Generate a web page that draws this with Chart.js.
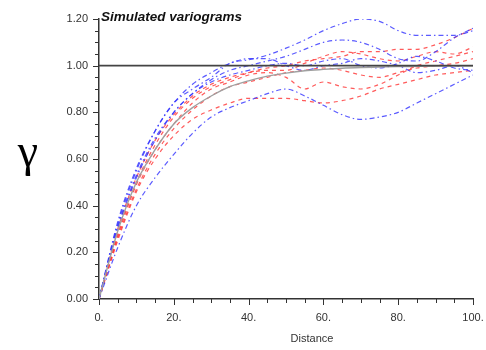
<!DOCTYPE html>
<html>
<head>
<meta charset="utf-8">
<script src="https://cdn.jsdelivr.net/npm/chart.js@4.4.1/dist/chart.umd.min.js"></script>
<style>
  body { margin: 0; background: #fff; }
  #wrap { width: 486px; height: 350px; }
</style>
</head>
<body>
<div id="wrap"><canvas id="myChart" width="486" height="350"></canvas></div>
<script>
// lag distances
const distances = [0, 5, 10, 15, 20, 25, 30, 35, 40, 45, 50, 55, 60, 65, 70, 75, 80, 85, 90, 95, 100];

// model variogram (grey) and sill
const modelGamma = [0, 0.29, 0.50, 0.64, 0.75, 0.82, 0.87, 0.91, 0.935, 0.955, 0.968, 0.978, 0.984, 0.989, 0.992, 0.994, 0.996, 0.997, 0.998, 0.999, 0.999];
const sill = [1, 1];
const sillX = [0, 100];

// simulated variograms, blue (dash-dot)
const blue1 = [0, 0.32, 0.55, 0.72, 0.84, 0.90, 0.95, 1.01, 1.025, 1.045, 1.075, 1.11, 1.15, 1.18, 1.20, 1.19, 1.15, 1.13, 1.13, 1.13, 1.15];
const blue2 = [0, 0.30, 0.52, 0.68, 0.80, 0.88, 0.94, 0.98, 1.00, 1.02, 1.04, 1.07, 1.10, 1.11, 1.10, 1.07, 1.03, 1.02, 1.06, 1.12, 1.16];
const blue3 = [0, 0.22, 0.40, 0.52, 0.62, 0.71, 0.78, 0.82, 0.85, 0.88, 0.90, 0.87, 0.83, 0.79, 0.77, 0.78, 0.80, 0.84, 0.88, 0.92, 0.96];
const blue4 = [0, 0.31, 0.53, 0.69, 0.80, 0.88, 0.93, 0.96, 0.98, 1.00, 1.01, 1.00, 1.02, 1.03, 1.00, 0.99, 1.01, 1.04, 1.02, 0.99, 0.98];
const blue5 = [0, 0.33, 0.56, 0.72, 0.84, 0.92, 0.97, 1.01, 1.03, 1.03, 1.00, 0.98, 1.00, 1.01, 1.03, 1.02, 1.00, 0.97, 0.98, 1.00, 0.97];

// simulated variograms, red (dashed)
const red1 = [0, 0.28, 0.50, 0.66, 0.78, 0.86, 0.91, 0.94, 0.97, 0.99, 1.00, 1.02, 1.03, 1.04, 1.06, 1.06, 1.07, 1.07, 1.09, 1.12, 1.16];
const red2 = [0, 0.25, 0.46, 0.60, 0.70, 0.77, 0.81, 0.84, 0.86, 0.86, 0.86, 0.85, 0.84, 0.85, 0.87, 0.90, 0.92, 0.94, 0.96, 0.97, 0.98];
const red3 = [0, 0.27, 0.49, 0.64, 0.75, 0.84, 0.90, 0.93, 0.96, 0.97, 0.95, 0.90, 0.93, 0.91, 0.90, 0.92, 0.96, 1.00, 1.02, 1.04, 1.06];
const red4 = [0, 0.30, 0.52, 0.68, 0.79, 0.87, 0.92, 0.95, 0.97, 0.98, 0.98, 1.01, 1.04, 1.06, 1.05, 1.03, 1.02, 1.04, 1.06, 1.05, 1.08];
const red5 = [0, 0.26, 0.47, 0.62, 0.73, 0.81, 0.87, 0.91, 0.93, 0.95, 0.97, 0.98, 0.99, 0.98, 0.96, 0.95, 0.97, 0.99, 1.00, 1.01, 1.03];

const blues = [blue1, blue2, blue3, blue4, blue5];
const reds = [red1, red2, red3, red4, red5];

const titleText = "Simulated variograms";
const yLabel = "\u03b3";
const xLabel = "Distance";

function toPts(xs, ys) {
  return xs.map((x, i) => ({ x: x, y: ys[i] }));
}

const datasets = [];
datasets.push({ data: toPts(sillX, sill), borderColor: "#444", borderWidth: 1.6, tension: 0 });
datasets.push({ data: toPts(distances, modelGamma), borderColor: "#a0a0a0", borderWidth: 1.4, cubicInterpolationMode: "monotone" });
blues.forEach(b => datasets.push({
  data: toPts(distances, b), borderColor: "rgba(50,50,255,0.8)", borderWidth: 1.2,
  borderDash: [5, 3, 1.5, 3], cubicInterpolationMode: "monotone"
}));
reds.forEach(r => datasets.push({
  data: toPts(distances, r), borderColor: "rgba(255,50,50,0.8)", borderWidth: 1.2,
  borderDash: [4, 4], cubicInterpolationMode: "monotone"
}));

// tick marks, title, axis labels
const decor = {
  id: "decor",
  afterDraw(chart) {
    const ctx = chart.ctx;
    const xs = chart.scales.x, ys = chart.scales.y;
    const area = chart.chartArea;
    ctx.save();
    ctx.strokeStyle = "#333";
    ctx.lineWidth = 1;
    for (let v = 0; v <= 120; v += 5) {
      const py = Math.round(ys.getPixelForValue(v / 100)) + 0.5;
      const len = v % 20 === 0 ? 6 : 4;
      ctx.beginPath();
      ctx.moveTo(area.left - len, py);
      ctx.lineTo(area.left, py);
      ctx.stroke();
    }
    for (let v = 0; v <= 100; v += 5) {
      const px = Math.round(xs.getPixelForValue(v)) + 0.5;
      const len = v % 20 === 0 ? 6 : 4;
      ctx.beginPath();
      ctx.moveTo(px, area.bottom);
      ctx.lineTo(px, area.bottom + len);
      ctx.stroke();
    }
    ctx.fillStyle = "#111";
    ctx.font = "bold italic 13.5px 'Liberation Sans', Arial, sans-serif";
    ctx.textBaseline = "middle";
    ctx.textAlign = "left";
    ctx.fillText(titleText, area.left + 2, 17);
    ctx.fillStyle = "#333";
    ctx.font = "11px 'Liberation Sans', Arial, sans-serif";
    ctx.textAlign = "center";
    ctx.fillText(xLabel, 312, 339);
    ctx.fillStyle = "#000";
    ctx.font = "46px 'Liberation Serif', serif";
    ctx.fillText(yLabel, 28, 154);
    ctx.restore();
  }
};

new Chart(document.getElementById("myChart"), {
  type: "line",
  data: { datasets: datasets },
  options: {
    responsive: false,
    animation: false,
    layout: { padding: { top: 19, right: 13, left: 0, bottom: 0 } },
    elements: { point: { radius: 0 } },
    plugins: { legend: { display: false }, tooltip: { enabled: false } },
    scales: {
      x: {
        type: "linear", min: 0, max: 100,
        afterFit(scale) { scale.height = 51; scale.paddingRight = 0; scale.paddingLeft = 0; },
        grid: { display: false, drawTicks: false },
        border: { display: true, color: "#333", width: 1.5 },
        ticks: {
          stepSize: 20, padding: 12, maxRotation: 0,
          color: "#333", font: { family: "'Liberation Sans', Arial", size: 11 },
          callback: v => v + "."
        }
      },
      y: {
        min: 0, max: 1.2,
        afterFit(scale) { scale.width = 99; scale.paddingTop = 0; scale.paddingBottom = 0; },
        grid: { display: false, drawTicks: false },
        border: { display: true, color: "#333", width: 1.5 },
        ticks: {
          stepSize: 0.2, padding: 11,
          color: "#333", font: { family: "'Liberation Sans', Arial", size: 11 },
          callback: v => v.toFixed(2)
        }
      }
    }
  },
  plugins: [decor]
});
</script>
</body>
</html>
